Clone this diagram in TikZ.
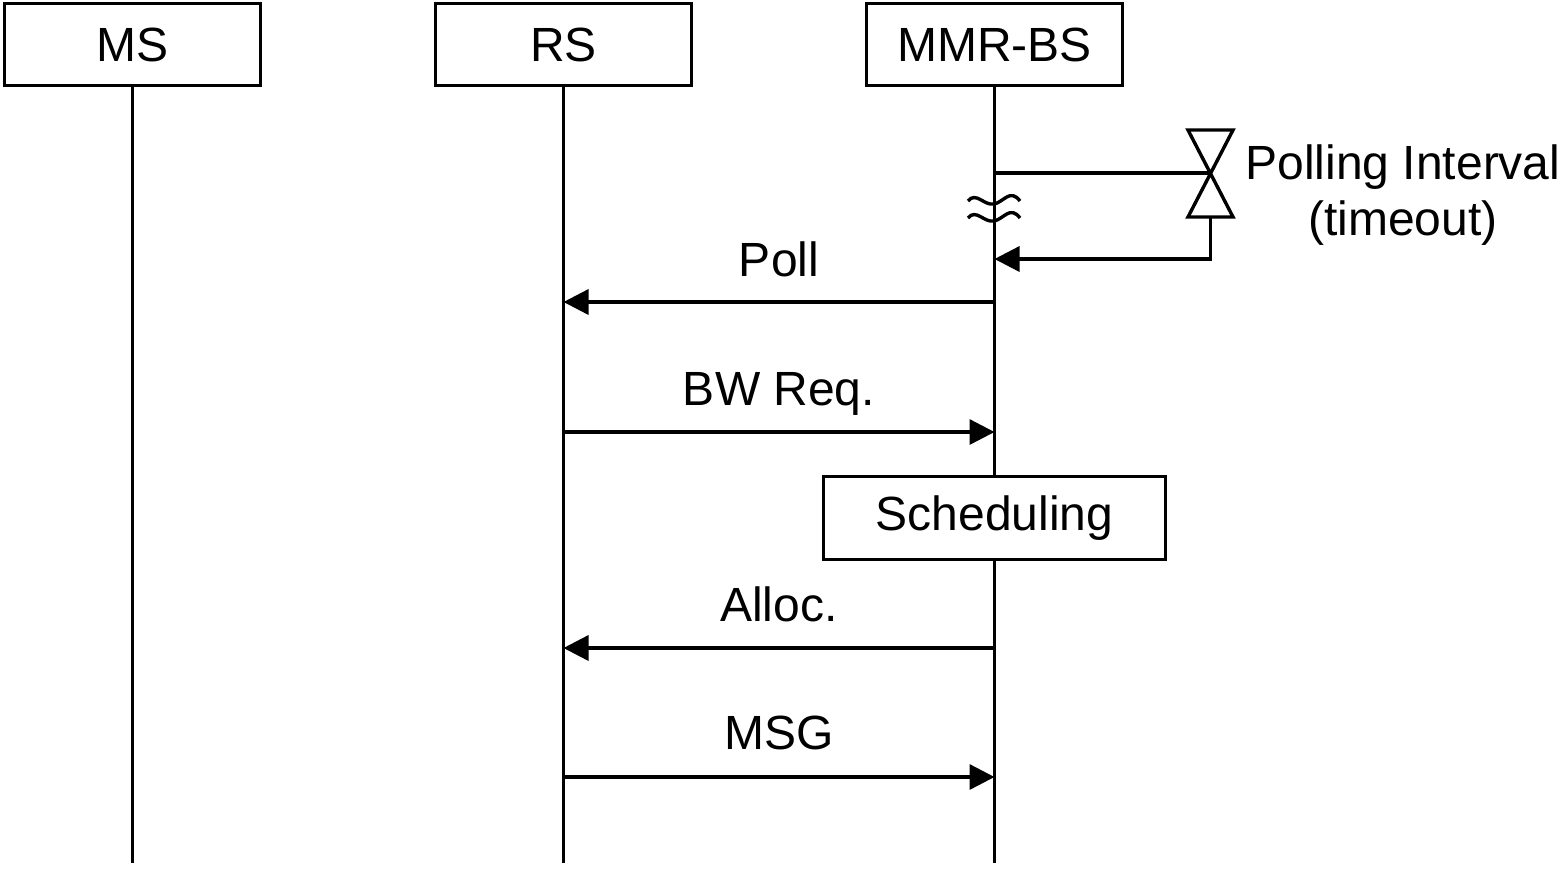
\documentclass[tikz,border=0pt]{standalone}
\usepackage{fontspec}
\setmainfont{Liberation Sans}
\usetikzlibrary{arrows.meta}
\begin{document}
\begin{tikzpicture}[x=0.5pt,y=-0.5pt,line width=1.7pt,
  txt/.style={font=\fontsize{24}{28}\selectfont},
  box/.style={draw,fill=white,line width=1.9pt,minimum width=128pt,minimum height=41pt,inner sep=0pt,txt},
  lbl/.style={anchor=base,inner sep=0pt,txt},
  msg/.style={-{Triangle[length=12.5pt,width=12.5pt]}}]
\useasboundingbox (0,0) rectangle (1564,869);
% actors
\node[box] (ms) at (132.5,44.5) {MS};
\node[box] (rs) at (563.5,44.5) {RS};
\node[box] (bs) at (994.5,44.5) {MMR-BS};
% lifelines
\coordinate (msend) at (132.5,863);
\coordinate (rsend) at (563.5,863);
\coordinate (bsend) at (994.5,863);
\draw (ms.south) -- (msend);
\draw (rs.south) -- (rsend);
\draw (bs.south) -- (bsend);
% timer
\coordinate (bst1) at (994.5,173);
\coordinate (timer) at (1210.5,173);
\draw (bst1) -- (timer);
\draw[line join=miter] (1188,130) -- (1233,130) -- (1188,217) -- (1233,217) -- cycle;
\coordinate (tb) at (1210.5,217);
\coordinate (tc) at (1210.5,259);
\coordinate (bst2) at (994.5,259);
\draw[msg] (tb) -- (tc) -- (bst2);
\node[txt,align=center,inner sep=0pt] (pi) at (1403,195) {Polling Interval\\(timeout)};
% break marks
\draw (968,201) .. controls (976,191) and (984,206) .. (994,204) .. controls (1004,202) and (1010,188) .. (1020,201);
\draw (968,218) .. controls (976,208) and (984,223) .. (994,221) .. controls (1004,219) and (1010,205) .. (1020,218);
% messages
\coordinate (bs1) at (994.5,302); \coordinate (rs1) at (563.5,302);
\draw[msg] (bs1) -- (rs1);
\node[lbl] (l1) at (779,276) {Poll};
\coordinate (rs2) at (563.5,432); \coordinate (bs2) at (994.5,432);
\draw[msg] (rs2) -- (bs2);
\node[lbl] (l2) at (779,405) {BW Req.};
\node[box,minimum width=171pt,minimum height=41.5pt] (sch) at (994.5,518) {Scheduling};
\coordinate (bs3) at (994.5,648); \coordinate (rs3) at (563.5,648);
\draw[msg] (bs3) -- (rs3);
\node[lbl] (l3) at (779,621) {Alloc.};
\coordinate (rs4) at (563.5,777); \coordinate (bs4) at (994.5,777);
\draw[msg] (rs4) -- (bs4);
\node[lbl] (l4) at (779,749) {MSG};
\end{tikzpicture}
\end{document}
